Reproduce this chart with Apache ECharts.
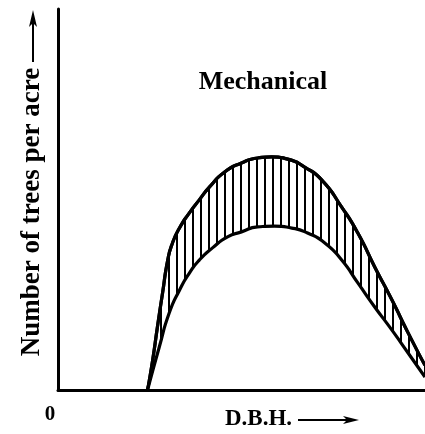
<!DOCTYPE html>
<html>
<head>
<meta charset="utf-8">
<script src="https://cdn.jsdelivr.net/npm/echarts@6/dist/echarts.min.js"></script>
<style>
  html, body { margin: 0; padding: 0; background: #fff; }
  #chart { width: 425px; height: 434px; }
</style>
</head>
<body>
<div id="chart"></div>
<script>
// values (x = D.B.H., y = number of trees per acre, relative units)
const upperDbh   = [24.4, 25.8, 27.1, 28.5, 29.9, 31.2, 33.1, 35.8, 38.5, 41.3, 45.4, 50.0, 54.4, 58.2, 62.6, 67.2, 71.9, 77.3, 81.7, 86.3, 91.0, 95.4, 100];
const upperTrees = [0, 7.9, 16.6, 25.5, 34.1, 38.6, 42.5, 46.5, 49.9, 53.3, 57.2, 59.6, 60.9, 61.2, 60.6, 58.5, 55.1, 48.0, 41.2, 32.3, 23.6, 15.0, 6.5];

const lowerDbh   = [24.4, 27.6, 30.3, 33.1, 35.8, 38.5, 42.1, 46.2, 50.0, 54.4, 59.0, 63.7, 68.0, 72.7, 77.3, 81.7, 86.3, 91.0, 95.4, 100];
const lowerTrees = [0, 11.3, 20.2, 26.2, 30.7, 34.1, 37.3, 40.2, 41.5, 42.8, 43.0, 42.5, 41.2, 38.6, 34.1, 28.1, 21.8, 15.7, 9.7, 3.4];

const titleText = 'Mechanical';
const yName = 'Number of trees per acre';
const xName = 'D.B.H.';
const originLabel = '0';

const serif = '"Liberation Serif", "DejaVu Serif", serif';

// vertical hatching pattern
function hatchPattern() {
    const c = document.createElement('canvas');
    c.width = 8;
    c.height = 4;
    const ctx = c.getContext('2d');
    ctx.fillStyle = '#000';
    ctx.fillRect(0, 0, 2, 4);
    return c;
}

const zip = (xs, ys) => xs.map((x, i) => [x, ys[i]]);
const upperData = zip(upperDbh, upperTrees);
const lowerData = zip(lowerDbh, lowerTrees);

const myChart = echarts.init(document.getElementById('chart'), null, { renderer: 'canvas' });

const axisCommon = {
    type: 'value',
    min: 0,
    max: 100,
    z: 10,
    axisLine: { show: true, lineStyle: { color: '#000', width: 3 } },
    axisTick: { show: false },
    axisLabel: { show: false },
    splitLine: { show: false }
};

const lineBase = {
    type: 'line',
    smooth: 0.6,
    symbol: 'none',
    lineStyle: { color: '#000', width: 3.2 }
};

const option = {
    animation: false,
    backgroundColor: '#fff',
    grid: { left: 58, right: 0, top: 9, bottom: 44 },
    xAxis: axisCommon,
    yAxis: axisCommon,
    series: [
        // hatched area under the upper curve
        Object.assign({}, lineBase, {
            data: upperData,
            z: 2,
            areaStyle: { color: { image: hatchPattern(), repeat: 'repeat' }, opacity: 1 }
        }),
        // white area under the lower curve hides the hatching there
        Object.assign({}, lineBase, {
            data: lowerData,
            z: 3,
            areaStyle: { color: '#fff', opacity: 1 }
        }),
        // upper outline on top
        Object.assign({}, lineBase, {
            data: upperData,
            z: 4
        })
    ],
    graphic: [
        {
            type: 'text', x: 263, y: 82,
            style: { text: titleText, font: 'bold 26px ' + serif, fill: '#000', align: 'center', verticalAlign: 'middle' }
        },
        {
            type: 'text', x: 32, y: 212, rotation: Math.PI / 2,
            style: { text: yName, font: 'bold 27px ' + serif, fill: '#000', align: 'center', verticalAlign: 'middle' }
        },
        // y arrow
        { type: 'line', shape: { x1: 33, y1: 62, x2: 33, y2: 20 }, style: { stroke: '#000', lineWidth: 2 } },
        { type: 'polygon', shape: { points: [[33, 10], [37, 27], [33, 23], [29, 27]] }, style: { fill: '#000' } },
        {
            type: 'text', x: 50, y: 415,
            style: { text: originLabel, font: 'bold 21px ' + serif, fill: '#000', align: 'center', verticalAlign: 'middle' }
        },
        {
            type: 'text', x: 225, y: 419,
            style: { text: xName, font: 'bold 23px ' + serif, fill: '#000', align: 'left', verticalAlign: 'middle' }
        },
        // x arrow
        { type: 'line', shape: { x1: 298, y1: 420, x2: 350, y2: 420 }, style: { stroke: '#000', lineWidth: 2 } },
        { type: 'polygon', shape: { points: [[359, 420], [343, 416], [347, 420], [343, 424]] }, style: { fill: '#000' } }
    ]
};

myChart.setOption(option);
</script>
</body>
</html>
